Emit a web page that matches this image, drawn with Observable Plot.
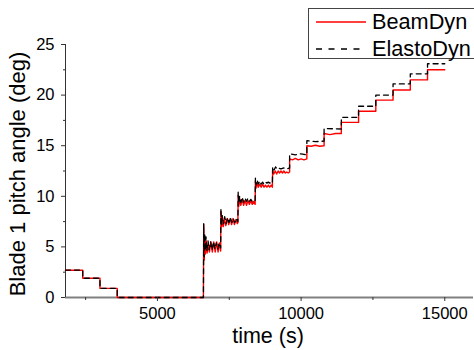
<!DOCTYPE html>
<html>
<head>
<meta charset="utf-8">
<script src="https://cdn.jsdelivr.net/npm/d3@7"></script>
<script src="https://cdn.jsdelivr.net/npm/@observablehq/plot@0.6"></script>
<style>
  body { margin: 0; background: #fff; }
  #wrap { position: relative; width: 474px; height: 350px; overflow: hidden; font-family: "Liberation Sans", Arial, sans-serif; }
  #legend { position: absolute; left: 308px; top: 8px; width: 180px; height: 51px; border: 1.5px solid #444; background: #fff; box-sizing: border-box; }
  .item { position: absolute; left: 0; height: 26px; display: flex; align-items: center; font-size: 21.7px; color: #000; }
  .item svg { margin-left: 7px; margin-right: 6px; }
</style>
</head>
<body>
<div id="wrap"></div>
<script>
const seriesNames = ["BeamDyn", "ElastoDyn"];
const xLabel = "time (s)";
const yLabel = "Blade 1 pitch angle (deg)";
const xTicks = [5000, 10000, 15000];
const xMinorTicks = [2500, 7500, 12500];
const yTicks = [0, 5, 10, 15, 20, 25];
const yMinorTicks = [2.5, 7.5, 12.5, 17.5, 22.5];

const beamTime = [1800,2400,2400,3000,3000,3600,3600,6600,
  6610,6630,6650,6670,6700,6730,6770,6810,6860,6910,6960,7010,7060,7110,7160,7200,
  7210,7230,7260,7290,7330,7380,7430,7480,7530,7580,7630,7680,7730,7780,7800,
  7810,7830,7860,7900,7950,8000,8050,8100,8150,8200,8250,8300,8350,8400,
  8410,8430,8470,8510,8560,8610,8660,8710,8760,8810,8860,8910,8960,9000,
  9010,9050,9100,9150,9200,9250,9300,9350,9400,9450,9500,9550,9600,
  9600,9700,9800,9900,10000,10100,10200,
  10200,10350,10500,10650,10800,
  10800,11000,11200,11400,
  11400,12000,12000,12600,12600,13200,13200,13800,13800,14400,14400,15000];
const beamPitch = [2.7,2.7,1.9,1.9,0.9,0.9,0,0,
  7.2,3.7,6.0,4.3,5.6,4.4,5.4,4.5,5.5,4.5,5.5,4.5,5.5,4.5,5.4,4.6,
  8.5,7.0,7.9,7.0,7.8,7.1,7.8,7.2,7.8,7.2,7.8,7.2,7.7,7.3,7.4,
  10.1,9.0,9.8,9.1,9.7,9.1,9.6,9.1,9.6,9.2,9.6,9.2,9.5,9.2,
  11.5,10.8,11.3,10.9,11.2,10.9,11.2,10.9,11.1,10.9,11.1,10.9,11.1,10.9,
  12.6,12.2,12.5,12.2,12.5,12.3,12.5,12.3,12.5,12.3,12.4,12.3,12.4,
  13.7,13.6,13.75,13.6,13.7,13.6,13.7,
  15.0,14.95,15.05,14.95,15.0,
  16.2,16.1,16.2,16.2,
  17.3,17.3,18.4,18.4,19.5,19.5,20.5,20.5,21.5,21.5,22.5,22.5];

const elastoTime = [1800,2400,2400,3000,3000,3600,3600,6600,
  6610,6625,6645,6665,6690,6720,6760,6800,6850,6900,6950,7000,7050,7100,7150,7200,
  7210,7230,7260,7300,7340,7390,7440,7490,7540,7590,7640,7690,7740,7800,
  7810,7830,7860,7900,7950,8000,8050,8100,8150,8200,8250,8300,8350,8400,
  8410,8430,8470,8510,8560,8610,8660,8710,8760,8810,8860,8910,8960,9000,
  9010,9060,9110,9160,9210,9300,9400,9500,9600,
  9600,9800,10000,10200,
  10200,10500,10800,
  10800,11400,
  11400,12000,12000,12600,12600,13200,13200,13800,13800,14400,14400,15000];
const elastoPitch = [2.7,2.7,1.9,1.9,0.9,0.9,0,0,
  7.3,4.0,6.3,4.6,6.0,4.6,5.6,4.7,5.5,4.7,5.5,4.8,5.4,4.8,5.4,4.9,
  8.8,7.2,8.1,7.3,8.0,7.3,7.9,7.4,7.9,7.4,7.8,7.4,7.8,7.5,
  10.4,9.3,10.0,9.4,9.9,9.4,9.8,9.5,9.8,9.5,9.7,9.5,9.7,9.6,
  11.8,11.1,11.6,11.2,11.5,11.2,11.4,11.2,11.4,11.3,11.4,11.3,11.4,11.3,
  12.9,12.6,12.9,12.7,12.8,12.7,12.8,12.7,12.8,
  14.2,14.1,14.2,14.1,
  15.5,15.4,15.45,
  16.7,16.65,
  17.8,17.8,18.9,18.9,20.0,20.0,21.1,21.1,22.1,22.1,23.1,23.1];

const beam = beamTime.map((t, i) => ({t, v: beamPitch[i]}));
const elasto = elastoTime.map((t, i) => ({t, v: elastoPitch[i]}));

const chart = Plot.plot({
  width: 474, height: 350,
  marginLeft: 65, marginRight: 1, marginTop: 44, marginBottom: 53,
  style: {fontFamily: "'Liberation Sans', Arial, sans-serif", fontSize: "16.5px", color: "#000", background: "#fff"},
  x: {domain: [1800, 16000]},
  y: {domain: [0, 25]},
  marks: [
    Plot.ruleY([0], {stroke: "#808080", strokeWidth: 2}),
    Plot.ruleX([1800], {stroke: "#333", strokeWidth: 1}),
    Plot.line(beam, {x: "t", y: "v", stroke: "#ff0000", strokeWidth: 1.4}),
    Plot.line(elasto, {x: "t", y: "v", stroke: "#000", strokeWidth: 1.3, strokeDasharray: "5,4"}),
    Plot.axisX({ticks: xTicks, tickSize: 4, tickPadding: 6, tickFormat: d => String(d), label: null, stroke: "#333"}),
    Plot.axisX({ticks: xMinorTicks, tickSize: 3, tickFormat: () => "", label: null, stroke: "#333"}),
    Plot.axisY({ticks: yTicks, tickSize: 4, tickPadding: 7, tickFormat: d => String(d), label: null, stroke: "#333"}),
    Plot.axisY({ticks: yMinorTicks, tickSize: 2, tickFormat: () => "", label: null, stroke: "#333"}),
    Plot.text([yLabel], {text: d => d, frameAnchor: "left", textAnchor: "middle", lineAnchor: "middle", rotate: -90, dx: -47.5, dy: 3, fontSize: 22}),
    Plot.text([xLabel], {text: d => d, frameAnchor: "bottom", textAnchor: "middle", lineAnchor: "middle", dx: -1.5, dy: 39, fontSize: 21.5})
  ]
});

const wrap = document.getElementById("wrap");
wrap.appendChild(chart);

const legend = document.createElement("div");
legend.id = "legend";
const styles = [
  {stroke: "#ff0000", dash: "none", width: 1.3},
  {stroke: "#000", dash: "6,6.5", width: 1.5}
];
seriesNames.forEach((name, i) => {
  const item = document.createElement("div");
  item.className = "item";
  item.style.top = (i === 0 ? 0 : 27) + "px";
  const s = styles[i];
  item.innerHTML = `<svg width="50" height="10"><line x1="0" x2="50" y1="5" y2="5" stroke="${s.stroke}" stroke-width="${s.width}" stroke-dasharray="${s.dash}"/></svg><span>${name}</span>`;
  legend.appendChild(item);
});
wrap.appendChild(legend);
</script>
</body>
</html>
